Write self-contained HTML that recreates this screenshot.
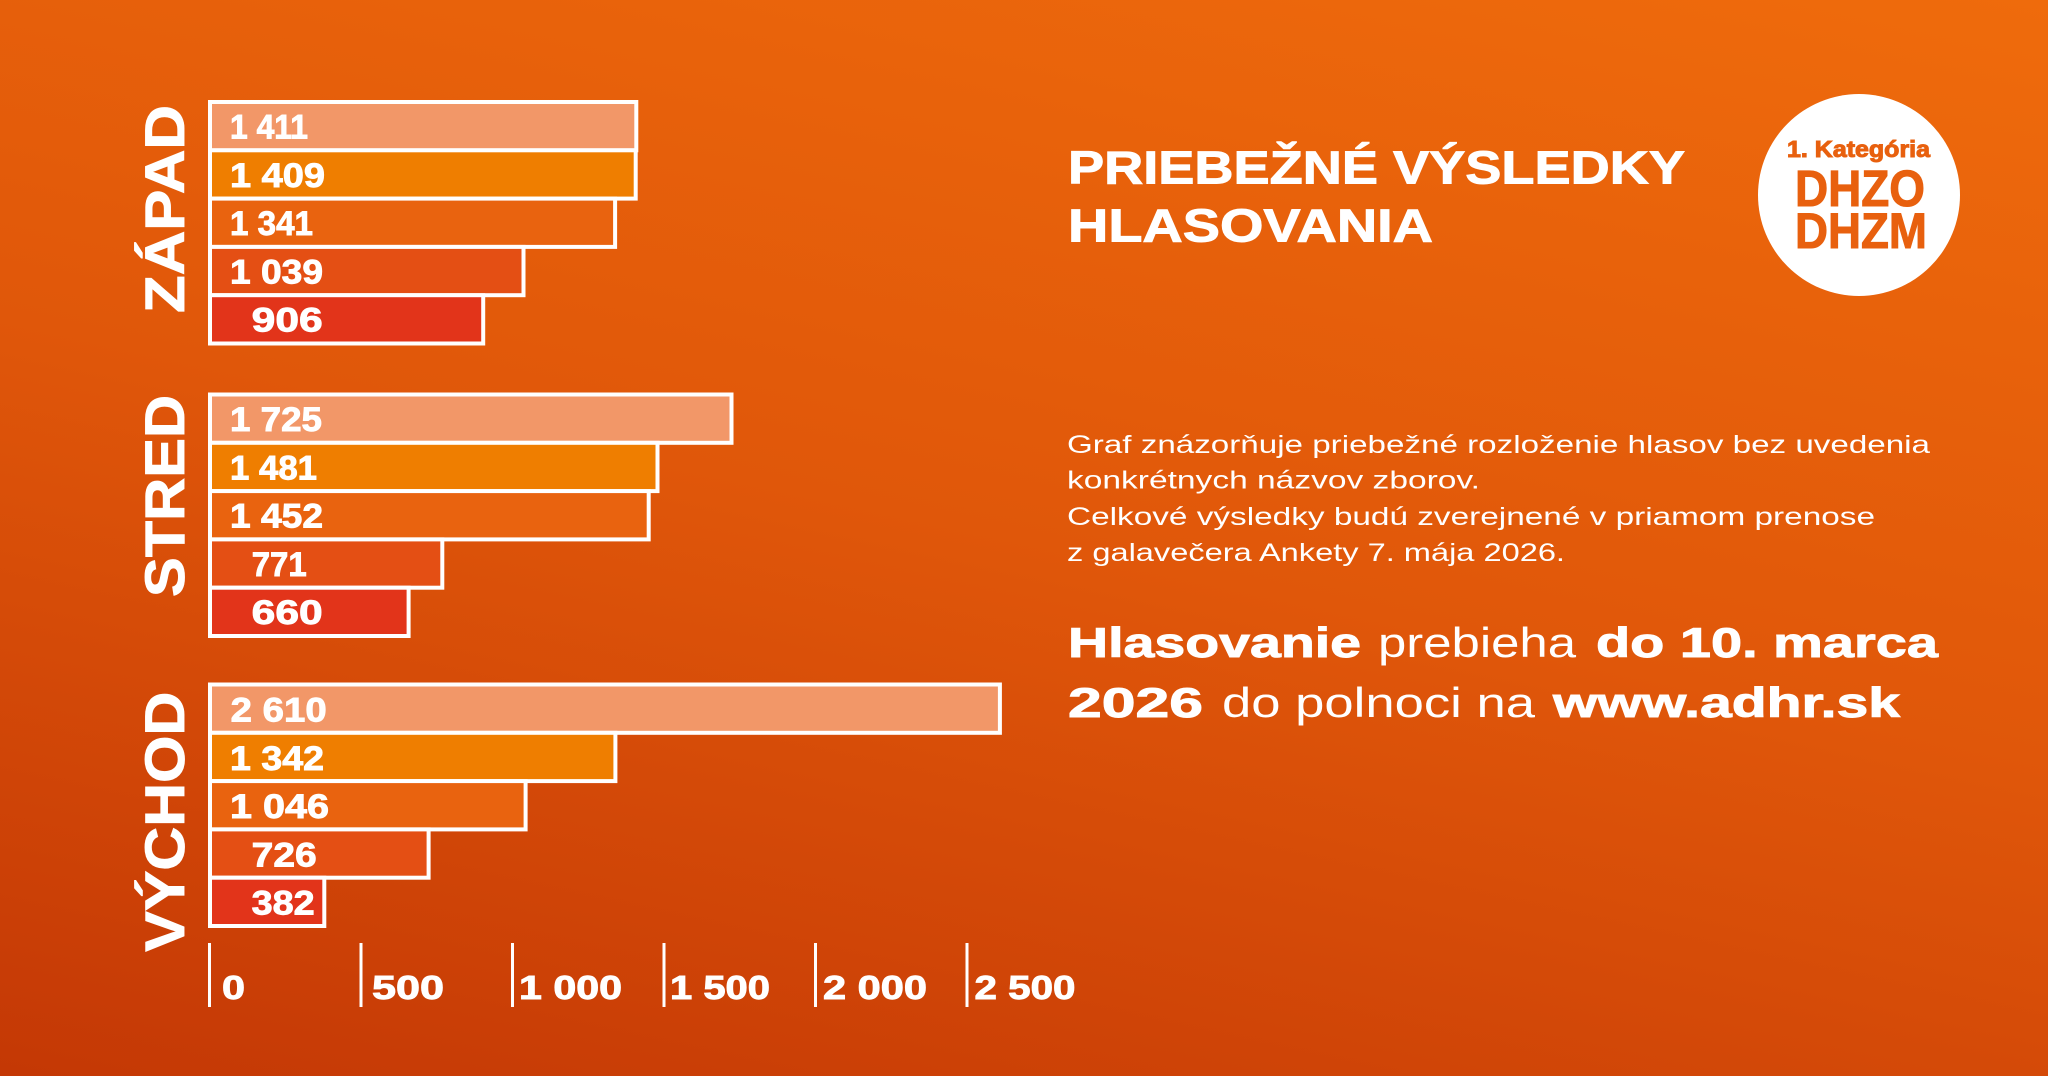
<!DOCTYPE html>
<html><head><meta charset="utf-8"><style>
html,body{margin:0;padding:0;width:2048px;height:1076px;overflow:hidden;}
svg{display:block;}
text{font-family:"Liberation Sans","DejaVu Sans",sans-serif;}
.b{font-weight:700;fill:#fff;stroke:#fff;stroke-width:0.9;}
.r{font-weight:400;fill:#fff;}
.o{font-weight:700;fill:#E8600E;stroke:#E8600E;stroke-width:1;}
</style></head><body>
<svg width="2048" height="1076" viewBox="0 0 2048 1076" xmlns="http://www.w3.org/2000/svg">
<defs>
<linearGradient id="bg" gradientUnits="userSpaceOnUse" x1="0" y1="1076" x2="315" y2="-375">
<stop offset="0" stop-color="#C43805"/>
<stop offset="0.5" stop-color="#E0570A"/>
<stop offset="1" stop-color="#EF6B0C"/>
</linearGradient>
</defs>
<rect width="2048" height="1076" fill="url(#bg)"/>

<!-- ZAPAD -->
<g stroke="#fff" stroke-width="4">
<rect x="210" y="102" width="426.3" height="48.3" fill="#F29768"/>
<rect x="210" y="150.3" width="425.7" height="48.3" fill="#EF7E00"/>
<rect x="210" y="198.6" width="405.1" height="48.3" fill="#E9630F"/>
<rect x="210" y="246.9" width="313.5" height="48.3" fill="#E44F14"/>
<rect x="210" y="295.2" width="273.2" height="48.3" fill="#E2341A"/>
</g>
<g font-size="34">
<text class="b" x="230" y="138.5" textLength="78" lengthAdjust="spacingAndGlyphs">1 411</text>
<text class="b" x="230" y="186.8" textLength="95" lengthAdjust="spacingAndGlyphs">1 409</text>
<text class="b" x="230" y="235.1" textLength="83" lengthAdjust="spacingAndGlyphs">1 341</text>
<text class="b" x="230" y="283.4" textLength="93" lengthAdjust="spacingAndGlyphs">1 039</text>
<text class="b" x="251.7" y="331.7" textLength="71" lengthAdjust="spacingAndGlyphs">906</text>
</g>

<!-- STRED -->
<g stroke="#fff" stroke-width="4">
<rect x="210" y="394.5" width="521.5" height="48.3" fill="#F29768"/>
<rect x="210" y="442.8" width="447.5" height="48.3" fill="#EF7E00"/>
<rect x="210" y="491.1" width="438.7" height="48.3" fill="#E9630F"/>
<rect x="210" y="539.4" width="232.3" height="48.3" fill="#E44F14"/>
<rect x="210" y="587.7" width="198.6" height="48.3" fill="#E2341A"/>
</g>
<g font-size="34">
<text class="b" x="230" y="431" textLength="92" lengthAdjust="spacingAndGlyphs">1 725</text>
<text class="b" x="230" y="479.3" textLength="87" lengthAdjust="spacingAndGlyphs">1 481</text>
<text class="b" x="230" y="527.6" textLength="93" lengthAdjust="spacingAndGlyphs">1 452</text>
<text class="b" x="251.7" y="575.9" textLength="55" lengthAdjust="spacingAndGlyphs">771</text>
<text class="b" x="251.7" y="624.2" textLength="71" lengthAdjust="spacingAndGlyphs">660</text>
</g>

<!-- VYCHOD -->
<g stroke="#fff" stroke-width="4">
<rect x="210" y="684.5" width="789.9" height="48.3" fill="#F29768"/>
<rect x="210" y="732.8" width="405.4" height="48.3" fill="#EF7E00"/>
<rect x="210" y="781.1" width="315.6" height="48.3" fill="#E9630F"/>
<rect x="210" y="829.4" width="218.6" height="48.3" fill="#E44F14"/>
<rect x="210" y="877.7" width="114.3" height="48.3" fill="#E2341A"/>
</g>
<g font-size="34">
<text class="b" x="230.7" y="721.5" textLength="96" lengthAdjust="spacingAndGlyphs">2 610</text>
<text class="b" x="230" y="769.8" textLength="94" lengthAdjust="spacingAndGlyphs">1 342</text>
<text class="b" x="230" y="818.1" textLength="99" lengthAdjust="spacingAndGlyphs">1 046</text>
<text class="b" x="251.7" y="866.4" textLength="65" lengthAdjust="spacingAndGlyphs">726</text>
<text class="b" x="251.7" y="914.7" textLength="63" lengthAdjust="spacingAndGlyphs">382</text>
</g>

<!-- group labels -->
<text class="b" font-size="56" transform="translate(184,313) rotate(-90)" textLength="208" lengthAdjust="spacingAndGlyphs">ZÁPAD</text>
<text class="b" font-size="56" transform="translate(184,597) rotate(-90)" textLength="202" lengthAdjust="spacingAndGlyphs">STRED</text>
<text class="b" font-size="56" transform="translate(184,951.7) rotate(-90)" textLength="260" lengthAdjust="spacingAndGlyphs">VÝCHOD</text>

<!-- axis -->
<g fill="#fff">
<rect x="208" y="943" width="3" height="64"/>
<rect x="359.5" y="943" width="3" height="64"/>
<rect x="511" y="943" width="3" height="64"/>
<rect x="662.5" y="943" width="3" height="64"/>
<rect x="814" y="943" width="3" height="64"/>
<rect x="965.5" y="943" width="3" height="64"/>
</g>
<g font-size="33">
<text class="b" x="222" y="999" textLength="23" lengthAdjust="spacingAndGlyphs">0</text>
<text class="b" x="372" y="999" textLength="72" lengthAdjust="spacingAndGlyphs">500</text>
<text class="b" x="519" y="999" textLength="103" lengthAdjust="spacingAndGlyphs">1 000</text>
<text class="b" x="670" y="999" textLength="100" lengthAdjust="spacingAndGlyphs">1 500</text>
<text class="b" x="823" y="999" textLength="104" lengthAdjust="spacingAndGlyphs">2 000</text>
<text class="b" x="974.5" y="999" textLength="101" lengthAdjust="spacingAndGlyphs">2 500</text>
</g>

<!-- title -->
<text class="b" font-size="46" x="1068" y="183.3" textLength="617" lengthAdjust="spacingAndGlyphs">PRIEBEŽNÉ VÝSLEDKY</text>
<text class="b" font-size="46" x="1068" y="241.7" textLength="365" lengthAdjust="spacingAndGlyphs">HLASOVANIA</text>

<!-- circle -->
<circle cx="1859" cy="195" r="101" fill="#fff"/>
<text class="o" font-size="23" x="1787" y="157" textLength="143" lengthAdjust="spacingAndGlyphs">1. Kategória</text>
<text class="o" font-size="51" x="1795" y="206" textLength="130" lengthAdjust="spacingAndGlyphs">DHZO</text>
<text class="o" font-size="50" x="1795" y="248" textLength="132" lengthAdjust="spacingAndGlyphs">DHZM</text>

<!-- paragraph -->
<g font-size="25">
<text class="r" x="1067" y="453" textLength="863" lengthAdjust="spacingAndGlyphs">Graf znázorňuje priebežné rozloženie hlasov bez uvedenia</text>
<text class="r" x="1067" y="488.5" textLength="413" lengthAdjust="spacingAndGlyphs">konkrétnych názvov zborov.</text>
<text class="r" x="1067" y="525" textLength="808" lengthAdjust="spacingAndGlyphs">Celkové výsledky budú zverejnené v priamom prenose</text>
<text class="r" x="1067" y="561" textLength="498" lengthAdjust="spacingAndGlyphs">z galavečera Ankety 7. mája 2026.</text>
</g>

<!-- call to action -->
<g font-size="42">
<text class="b" x="1068" y="657" textLength="293" lengthAdjust="spacingAndGlyphs">Hlasovanie</text>
<text class="r" x="1378" y="657" textLength="198" lengthAdjust="spacingAndGlyphs">prebieha</text>
<text class="b" x="1596" y="657" textLength="342" lengthAdjust="spacingAndGlyphs">do 10. marca</text>
<text class="b" x="1068" y="717" textLength="135" lengthAdjust="spacingAndGlyphs">2026</text>
<text class="r" x="1222" y="717" textLength="313" lengthAdjust="spacingAndGlyphs">do polnoci na</text>
<text class="b" x="1553" y="717" textLength="347" lengthAdjust="spacingAndGlyphs">www.adhr.sk</text>
</g>
</svg>
</body></html>
